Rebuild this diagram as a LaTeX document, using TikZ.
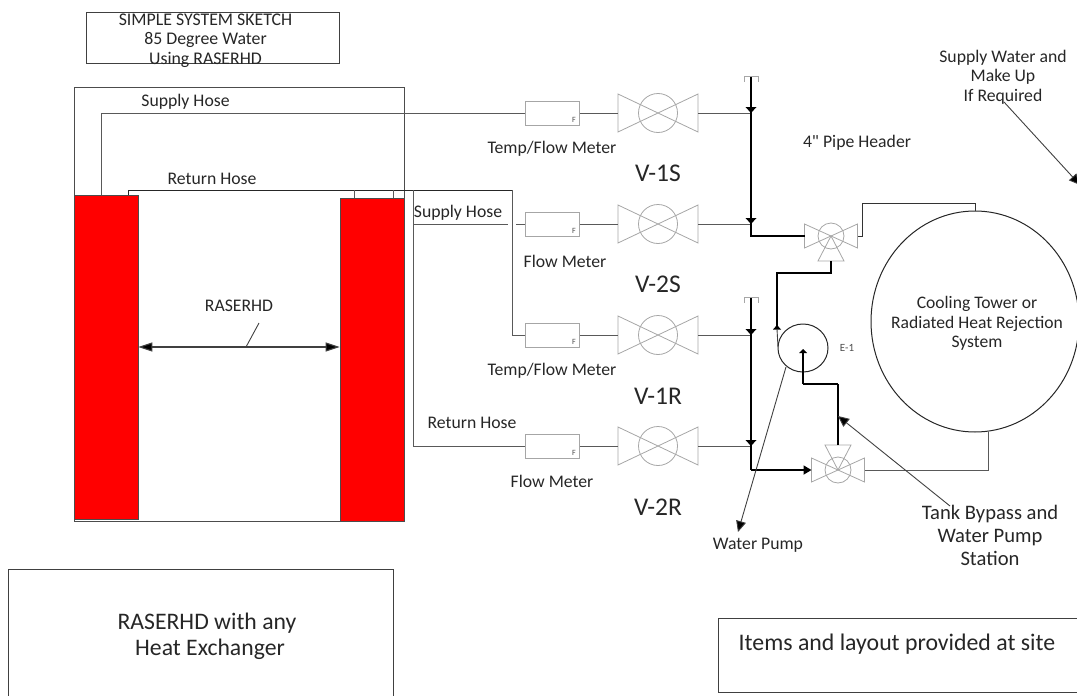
\documentclass[tikz,border=0pt]{standalone}
\usepackage{fontspec}
\setmainfont{Carlito}
\newfontfamily\plainf{Carlito}
\usetikzlibrary{arrows.meta,calc,shapes.geometric}
\tikzset{
  x=1pt,y=-1pt,
  hose/.style={draw=black!65,line width=1pt},
  pipe/.style={draw=black,line width=1.7pt},
  thin line/.style={draw=black!75,line width=.9pt},
  device/.style={draw=black!35,line width=.8pt},
  lbl/.style={inner sep=0pt,align=center,yshift=-1.5pt,text=black!85,font=\fontsize{17.7}{19.5}\selectfont},
  tag/.style={inner sep=0pt,text=black!85,font=\fontsize{25.5}{26}\selectfont},
  heat/.style={fill=red,draw=black!70,line width=.8pt},
  tip/.style={-{Triangle[length=11pt,width=10pt,fill=black]}},
}
\newcommand{\meter}[3]{% name, x, y centre line
  \node[device,draw,minimum width=54pt,minimum height=24pt,inner sep=0pt,anchor=west] (#1) at (#2,#3) {};
  \node[inner sep=0pt,text=black!70,font=\fontsize{8}{8}\selectfont] (#1f) at ($(#2,#3)+(49,7)$) {F};
}
\newcommand{\valve}[3]{% name, x, y centre
  \coordinate (#1) at (#2,#3);
  \coordinate (#1w) at ($(#2,#3)+(-40,0)$);
  \coordinate (#1e) at ($(#2,#3)+(40,0)$);
  \draw[device] ($(#2,#3)+(-40,-19)$) -- ($(#2,#3)+(-40,19)$) -- ($(#2,#3)+(40,-19)$) -- ($(#2,#3)+(40,19)$) -- cycle;
  \draw[device] (#2,#3) circle[radius=19.5];
}
\newcommand{\tvalve}[4]{% name, x, y, dir of third port (1 down,-1 up)
  \coordinate (#1) at (#2,#3);
  \coordinate (#1w) at ($(#2,#3)+(-26.5,0)$);
  \coordinate (#1e) at ($(#2,#3)+(26.5,0)$);
  \coordinate (#1p) at ($(#2,#3)+(0,#4*25)$);
  \draw[device] ($(#2,#3)+(-26.5,-12)$) -- ($(#2,#3)+(-26.5,12)$) -- ($(#2,#3)+(26.5,-12)$) -- ($(#2,#3)+(26.5,12)$) -- cycle;
  \draw[device] (#2,#3) circle[radius=13];
  \draw[device] (#2,#3) -- ($(#2,#3)+(-13,#4*25)$) -- ($(#2,#3)+(13,#4*25)$) -- cycle;
}
\begin{document}
\begin{tikzpicture}
\useasboundingbox (0,0) rectangle (1077,696);
% title
\node[draw=black!75,line width=.9pt,minimum width=253pt,minimum height=51pt,inner sep=0pt] (title) at (212.5,37.5) {};
\node[lbl,font=\fontsize{17.8}{19.5}\selectfont] (titletxt) at (205.5,39) {SIMPLE SYSTEM SKETCH\\85 Degree Water\\Using RASERHD};
% outer
\node[draw=black!70,line width=.9pt,minimum width=330pt,minimum height=434pt,inner sep=0pt] (outer) at (239,304) {};
\node[heat,minimum width=64pt,minimum height=324pt,inner sep=0pt] (redL) at (106,357) {};
\node[heat,minimum width=64pt,minimum height=323pt,inner sep=0pt] (redR) at (372,359.5) {};
% valves and meters
\foreach \n/\y in {a/113,b/224,c/335,d/446}{
  \meter{m\n}{525}{\y}
  \valve{v\n}{658}{\y}
  \draw[hose] (m\n.east) -- (v\n w);
}
\coordinate (ha) at (751,113);
\coordinate (hb) at (751,224);
\coordinate (hc) at (751,335);
\coordinate (hd) at (751,446);
\foreach \n in {a,b,c,d}{ \draw[hose] (v\n e) -- (h\n); }
% hoses
\coordinate (s1) at (101,195);
\coordinate (s2) at (101,113);
\draw[hose] (s1) -- (s2) -- (ma.west);
\coordinate (r1) at (128,195);
\coordinate (r2) at (128,190);
\coordinate (r3) at (512,190);
\coordinate (r4) at (512,335);
\draw[hose,black!85] (r1) -- (r2) -- (r3);
\draw[hose] (r3) -- (r4) -- (mc.west);
\coordinate (t1) at (354,190);
\coordinate (t2) at (354,198);
\coordinate (t3) at (393,190);
\coordinate (t4) at (393,198);
\draw[hose] (t1) -- (t2);
\draw[hose] (t3) -- (t4);
\coordinate (u1) at (413,190);
\coordinate (u2) at (413,446);
\draw[hose] (u1) -- (u2) -- (md.west);
\coordinate (g1) at (413,224);
\coordinate (g2) at (508,224);
\coordinate (g3) at (516,224);
\draw[hose] (g1) -- (g2);
\draw[hose] (g3) -- (mb.west);
% RASERHD dimension
\draw[thin line,line width=1.1pt,{Triangle[length=14pt,width=9pt,fill=black]}-{Triangle[length=14pt,width=9pt,fill=black]}] (redL.east |- 0,347) coordinate (dl) -- (redR.west |- 0,347) coordinate (dr);
\coordinate (lead1) at (246,347);
\coordinate (lead2) at (259,323);
\draw[thin line] (lead1) -- (lead2);
% three way valves
\tvalve{tu}{831}{236}{1}
\tvalve{tl}{838}{470}{-1}
% headers
\coordinate (h1t) at (751,76);
\coordinate (h1b) at (751,236);
\draw[pipe] (h1t) -- (h1b) -- (tuw);
\coordinate (h2t) at (751,297);
\coordinate (h2b) at (751,470);
\draw[pipe] (h2t) -- (h2b);
\draw[pipe,-{Triangle[length=8pt,width=9pt]}] (h2b) -- (tlw);
\draw[device,line width=1pt] (744,82) -- (744,76) -- (758,76) -- (758,82);
\draw[device,line width=1pt] (744,303) -- (744,297) -- (758,297) -- (758,303);
\foreach \n in {a,b,c,d}{
  \fill[black] ($(h\n)+(-5.5,-6)$) -- ($(h\n)+(5.5,-6)$) -- ($(h\n)+(0,0)$) -- cycle;
}
% pump
\node[draw=black!85,line width=1pt,ellipse,minimum width=50pt,minimum height=48pt,inner sep=0pt] (pump) at (803,348) {};
\node[inner sep=0pt,text=black!70,font=\fontsize{11}{11}\selectfont] (e1) at (847,348) {E-1};
\coordinate (p1) at (831,273);
\coordinate (p2) at (777,273);
\coordinate (p3) at (777,329);
\draw[pipe] (tup) -- (p1) -- (p2) -- (p3);
\fill[black] (777,325) -- (773,329.5) -- (781,329.5) -- cycle;
\coordinate (p3b) at (778,347);
\draw[thin line] (p3) -- (p3b);
\coordinate (q1) at (838,384);
\coordinate (q2) at (803,384);
\coordinate (q3) at (803,352);
\draw[pipe] (tlp) -- (q1);
\draw[pipe] (q1) -- (q2);
\draw[hose,line width=1.3pt,black] (q2) -- (q3);
\fill[black] (803,349) -- (799,353) -- (807,353) -- cycle;
% tower
\node[draw=black!85,line width=1pt,ellipse,minimum width=208pt,minimum height=221pt,inner sep=0pt,align=center] (tower) at (975,321.5) {};
\node[lbl,font=\fontsize{17.6}{19.5}\selectfont] (towertxt) at (977,322) {Cooling Tower or\\Radiated Heat Rejection\\System};
\coordinate (c1) at (975,203);
\coordinate (c2) at (862,203);
\coordinate (c3) at (862,236);
\draw[hose,black!80] (tower.north) -- (c1) -- (c2) -- (c3) -- (tue);
\coordinate (d0) at (988,431.5);
\coordinate (d1) at (988,470);
\draw[hose] (d0) -- (d1) -- (tle);
% labels
\node[lbl] (l1) at (185.5,100) {Supply Hose};
\node[lbl] (l2) at (212,177) {Return Hose};
\node[lbl] (l3) at (458,211) {Supply Hose};
\node[lbl] (l4) at (472,421) {Return Hose};
\node[lbl] (l5) at (239,304) {RASERHD};
\node[lbl] (l6) at (552,147) {Temp/Flow Meter};
\node[lbl] (l7) at (565,260) {Flow Meter};
\node[lbl] (l8) at (552,369) {Temp/Flow Meter};
\node[lbl] (l9) at (552,480) {Flow Meter};
\node[tag] (v1) at (658,173) {V-1S};
\node[tag] (v2) at (658,284) {V-2S};
\node[tag] (v3) at (658,396) {V-1R};
\node[tag] (v4) at (658,507) {V-2R};
\node[lbl] (l10) at (857,141) {\plainf 4" Pipe Header};
\node[lbl] (sw) at (1003,75.5) {Supply Water and\\Make Up\\If Required};
\node[lbl] (wp) at (758,544) {Water Pump};
\node[lbl,font=\fontsize{20.6}{23}\selectfont] (tb) at (990,533.5) {Tank Bypass and\\Water Pump\\Station};
% leaders
\coordinate (swa) at (1004,102);
\coordinate (swb) at (1080,185);
\draw[thin line,tip] (swa) -- (swb);
\coordinate (wpa) at (786,367);
\coordinate (wpb) at (738,532);
\draw[thin line,tip] (wpa) -- (wpb);
\coordinate (tba) at (950,506);
\coordinate (tbb) at (838,416);
\draw[thin line,tip] (tba) -- (tbb);
% bottom boxes
\node[draw=black!75,line width=.9pt,minimum width=385pt,minimum height=140pt,inner sep=0pt] (b1) at (200.5,639) {};
\node[lbl,font=\fontsize{23.7}{26}\selectfont] (b1t) at (207,635) {RASERHD with any\\\hspace*{6pt}Heat Exchanger};
\node[draw=black!75,line width=.9pt,minimum width=370pt,minimum height=74pt,inner sep=0pt] (b2) at (903,655) {};
\node[lbl,font=\fontsize{23.8}{26}\selectfont] (b2t) at (897,643) {Items and layout provided at site};
\end{tikzpicture}
\end{document}
